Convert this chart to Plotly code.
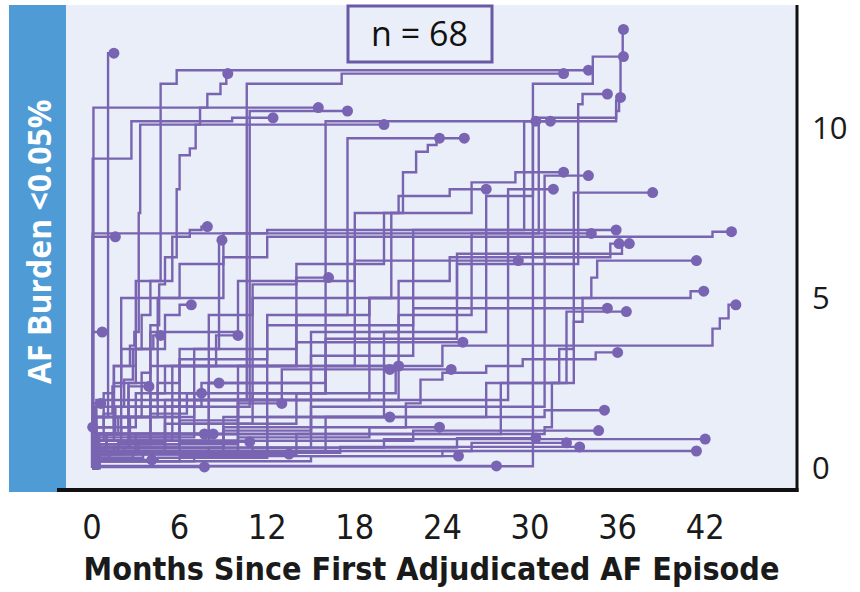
import plotly.graph_objects as go

# ---- data: per-patient step paths (months, AF burden) and end of follow-up ----
patient_step_months = [
    [0, 0.3, 1.1],
    [0, 0.3, 2.6, 3.4, 4.0, 4.6, 5.0, 5.8, 6.0, 6.7, 7.1, 7.4, 7.9, 8.8, 9.2],
    [0, 0.1],
    [0, 0.4, 5.5, 10.8],
    [0, 0.05, 2.7, 9.6],
    [0, 0.2, 0.8, 1.4, 2.0, 2.6, 2.9, 3.2, 3.3],
    [0, 0.3, 10, 21, 26, 30.6, 35.9, 36.2, 36.35],
    [0, 0.2, 9, 20, 27, 30.2, 34.3],
    [0, 0.5, 4, 10.6, 17.1],
    [0, 0.3, 1.0, 1.6, 2.2, 2.8, 3.4, 4.0, 4.7, 5.8],
    [0, 0.4, 7, 16, 25, 33.3, 33.6],
    [0, 0.5, 15, 22, 29.6, 35.9, 36.1],
    [0, 0.1, 30.2],
    [0, 0.2, 8, 16.0],
    [0, 0.3, 10, 18, 20.5, 21.3, 22.2, 23.0, 23.6],
    [0, 0.1, 6, 12, 17.5],
    [0, 0.2, 6, 14, 20, 26, 29],
    [0, 0.5, 15, 31.0],
    [0, 0.2, 1, 2, 3, 5, 11, 18, 21, 24.5],
    [0, 0.3, 12, 28.5],
    [0, 0.3, 14, 28, 33.0],
    [0, 0.05, 0.8, 1.5, 2, 6, 9],
    [0, 0.05, 12],
    [0, 0.3, 4.5, 9, 12, 42.5],
    [0, 0.4, 8, 15, 21, 24.5, 35.5],
    [0, 0.2, 10, 19, 25, 36.3],
    [0, 0.2, 1.5, 3.0, 5.5, 6.7, 7.5],
    [0, 0.05],
    [0, 0.3, 1, 2, 3, 4.5, 6, 8.7],
    [0, 0.1, 1.5, 2.5, 4, 10, 18],
    [0, 0.3, 16, 31.0, 31.5, 32.0, 33.0, 33.6, 34.2, 34.6],
    [0, 0.2, 7, 14, 19, 41],
    [0, 0.2, 5, 11, 24, 42.5, 43.0, 43.6],
    [0, 0.1, 6, 12, 22],
    [0, 0.4, 12, 27, 32.5],
    [0, 0.1, 4, 8, 14],
    [0, 0.3, 9, 21.5, 22.5, 24, 27, 29.5, 34.5],
    [0, 0.2, 4, 8, 11, 14],
    [0, 0.1, 2, 5, 6],
    [0, 0.05],
    [0, 0.2, 1.5, 3.0, 4.2],
    [0, 0.3, 2.5, 5.5, 8.5],
    [0, 0.2, 2.5, 6, 14, 20.8],
    [0, 0.2, 1.8, 5, 16, 31],
    [0, 0.2, 1.5, 3, 10, 19],
    [0, 0.1, 2.2, 9, 22],
    [0, 0.2, 3.5, 11, 20],
    [0, 0.1, 1.2, 8, 25],
    [0, 0.2, 4.5, 12, 26],
    [0, 0.3, 2.8, 17],
    [0, 0.3, 6, 24],
    [0, 0.1, 15],
    [0, 0.05],
    [0, 0.1, 1.8, 7, 13],
    [0, 0.2, 5, 11, 16],
    [0, 0.3, 2.5],
    [0, 0.2, 4, 6.5],
    [0, 0.4, 5, 7.5],
    [0, 0.1, 6, 10],
    [0, 0.05],
    [0, 0.2, 3.2, 9, 15],
    [0, 0.0],
    [0, 0.2, 5],
    [0, 0.5, 3],
    [0, 0.3, 6],
    [0, 0.1, 7],
    [0],
    [0, 0.1],
]
patient_step_burden = [
    [0, 1.5, 12.2],
    [0, 0.6, 1.5, 2.8, 4.2, 5.4, 6.2, 8.2, 9.2, 9.4, 10.1, 10.6, 11.0, 11.3, 11.6],
    [0, 10.6],
    [0, 0.8, 1.8, 10.5],
    [0, 9.1, 10.2, 10.3],
    [0, 0.8, 1.6, 2.4, 3.0, 3.6, 4.0, 7.5, 10.1],
    [0, 0.5, 2.0, 4.5, 6.9, 10.3, 10.8, 12.1, 12.9],
    [0, 0.6, 1.5, 4.0, 8.0, 11.3, 12.1],
    [0, 0.7, 2.0, 11.3, 11.6],
    [0, 0.4, 1.0, 1.8, 2.6, 3.5, 4.5, 5.5, 11.3, 11.7],
    [0, 0.9, 2.2, 3.8, 6.0, 10.7, 11.0],
    [0, 1.0, 3.3, 7.0, 10.2, 10.5, 10.9],
    [0, 0.05, 10.2],
    [0, 0.8, 2.5, 10.2],
    [0, 1.0, 3.0, 5.0, 7.5, 8.7, 9.3, 9.5, 9.7],
    [0, 0.6, 2.0, 4.5, 9.7],
    [0, 1.0, 3.0, 6.0, 7.5, 8.4, 8.7],
    [0, 0.6, 1.8, 8.6],
    [0, 0.5, 1.0, 1.5, 2.2, 3.0, 5.0, 7.5, 8.0, 8.2],
    [0, 0.5, 2.0, 8.2],
    [0, 0.4, 1.0, 2.5, 8.1],
    [0, 1.2, 2.2, 3.0, 5.0, 6.0, 6.9],
    [0, 6.9, 7.0],
    [0, 2.0, 5.0, 6.2, 6.8, 6.95],
    [0, 1.0, 2.5, 4.0, 5.5, 6.2, 6.6],
    [0, 0.8, 2.0, 5.0, 6.3, 6.6],
    [0, 1.0, 3.0, 5.5, 6.8, 7.0, 7.1],
    [0, 6.8],
    [0, 0.5, 0.8, 1.2, 1.5, 2.5, 3.5, 6.7],
    [0, 0.8, 1.5, 2.5, 4.0, 5.5, 6.1],
    [0, 0.5, 1.0, 1.2, 2.5, 3.5, 4.3, 5.0, 5.6, 6.1],
    [0, 1.8, 3.5, 4.5, 5.0, 5.2],
    [0, 1.0, 2.0, 3.0, 3.6, 4.1, 4.4, 4.8],
    [0, 1.5, 3.2, 4.2, 4.7],
    [0, 0.5, 1.5, 2.5, 4.6],
    [0, 1.0, 2.2, 3.0, 3.7],
    [0, 0.4, 1.2, 1.9, 2.6, 2.8, 3.0, 3.2, 3.4],
    [0, 1.5, 3.0, 4.5, 5.4, 5.6],
    [0, 1.5, 3.5, 4.5, 4.8],
    [0, 4.0],
    [0, 1.2, 2.5, 3.5, 3.9],
    [0, 0.7, 1.8, 3.0, 3.9],
    [0, 0.6, 0.9, 1.3, 2.2, 2.9],
    [0, 0.5, 0.75, 1.0, 1.5, 1.7],
    [0, 0.5, 0.6, 0.7, 0.9, 1.2],
    [0, 0.4, 0.6, 0.8, 1.1],
    [0, 0.3, 0.45, 0.6, 0.85],
    [0, 0.3, 0.45, 0.6, 0.88],
    [0, 0.2, 0.3, 0.5, 0.74],
    [0, 0.3, 0.45, 0.62],
    [0, 0.2, 0.35, 0.5],
    [0, 0.2, 0.35],
    [0, 0.06],
    [0, 1.0, 1.5, 2.0, 2.9],
    [0, 0.6, 1.3, 2.2, 3.0],
    [0, 1.2, 2.4],
    [0, 0.8, 1.6, 2.2],
    [0, 1.0, 1.8, 2.5],
    [0, 0.7, 1.4, 1.9],
    [0, 1.9],
    [0, 0.5, 0.8, 1.1, 1.5],
    [0, 1.2],
    [0, 0.5, 1.0],
    [0, 0.4, 1.0],
    [0, 0.4, 0.77],
    [0, 0.2, 0.41],
    [0.03],
    [0, 0.24],
]
patient_end_months = [
    1.5, 9.3, 15.5, 17.5, 12.4, 20.0, 36.4, 36.4, 32.3, 34.0,
    35.3, 36.2, 30.4, 31.4, 23.8, 25.5, 32.3, 34.0, 27.0, 31.6,
    38.4, 34.2, 35.9, 43.8, 36.1, 36.8, 7.9, 1.6, 8.9, 29.2,
    41.4, 41.9, 44.1, 35.3, 36.6, 25.4, 36.0, 16.2, 6.8, 0.7,
    4.7, 10.0, 24.6, 35.1, 23.8, 34.7, 42.0, 30.4, 32.5, 33.4,
    41.4, 25.1, 27.7, 20.4, 21.0, 3.9, 7.5, 8.7, 13.0, 0.6,
    20.4, 0.05, 8.3, 7.7, 10.8, 13.5, 7.7, 4.1,
]
x_tick_values = [0, 6, 12, 18, 24, 30, 36, 42]
y_tick_values = [0, 5, 10]
n_label = "n = 68"
side_label = "AF Burden <0.05%"
x_title = "Months Since First Adjudicated AF Episode"

# ---- styling ----
LINE_COLOR = "rgb(120, 100, 176)"
DOT_COLOR = "rgb(120, 100, 178)"
PLOT_BG = "#e9eef8"
BAND = "#4e9bd6"
W, H = 860, 592

fig = go.Figure()
for months, burden, end in zip(patient_step_months, patient_step_burden, patient_end_months):
    xs = list(months) + [end]
    ys = list(burden) + [burden[-1]]
    fig.add_trace(go.Scatter(
        x=xs, y=ys, mode="lines", line=dict(color=LINE_COLOR, width=2.4, shape="hv"),
        hoverinfo="skip", showlegend=False))

fig.add_trace(go.Scatter(
    x=patient_end_months, y=[b[-1] for b in patient_step_burden], mode="markers",
    marker=dict(color=DOT_COLOR, size=11, line=dict(width=0)),
    showlegend=False, hoverinfo="skip"))

# plot area in pixels
px_left, px_right, px_top, px_bottom = 66, 797, 5, 490
x0_px, px_per_month = 92, 14.6
y0_px, px_per_unit = 468, 34.0
x_range = [(px_left - x0_px) / px_per_month, (px_right - x0_px) / px_per_month]
y_range = [(y0_px - px_bottom) / px_per_unit, (y0_px - px_top) / px_per_unit]

cond_font = "DejaVu Sans Condensed, sans-serif"

fig.update_layout(
    width=W, height=H, margin=dict(l=0, r=0, t=0, b=0),
    paper_bgcolor="white", plot_bgcolor=PLOT_BG,
    xaxis=dict(domain=[px_left / W, px_right / W], range=x_range,
               showgrid=False, zeroline=False, showline=False,
               tickmode="array", tickvals=x_tick_values, ticks="",
               ticklabelstandoff=14,
               tickfont=dict(family=cond_font, size=34, color="#1a1a1a"),
               title=dict(text=x_title, standoff=11,
                          font=dict(family=cond_font, size=32, color="#1a1a1a", weight="bold"))),
    yaxis=dict(domain=[1 - px_bottom / H, 1 - px_top / H], range=y_range, side="right",
               showgrid=False, zeroline=False, showline=False,
               tickmode="array", tickvals=y_tick_values, ticks="",
               ticklabelstandoff=14,
               tickfont=dict(family="Open Sans, DejaVu Sans, sans-serif", size=31, color="#1a1a1a")),
)

shapes = [
    # left blue band
    dict(type="rect", xref="paper", yref="paper", x0=9 / W, x1=66 / W,
         y0=1 - 492 / H, y1=1 - 5 / H, fillcolor=BAND, line=dict(width=0), layer="below"),
    # right border
    dict(type="line", xref="paper", yref="paper", x0=797 / W, x1=797 / W,
         y0=1 - 492 / H, y1=1 - 5 / H, line=dict(color="#111111", width=3)),
    # bottom border
    dict(type="line", xref="paper", yref="paper", x0=57 / W, x1=798.5 / W,
         y0=1 - 490 / H, y1=1 - 490 / H, line=dict(color="#111111", width=4)),
    # n box
    dict(type="rect", xref="paper", yref="paper", x0=348 / W, x1=492 / W,
         y0=1 - 62 / H, y1=1 - 6 / H, fillcolor=PLOT_BG,
         line=dict(color="#6a59a8", width=3)),
]
fig.update_layout(shapes=shapes)

fig.add_annotation(xref="paper", yref="paper", x=419 / W, y=1 - 33 / H,
                   xanchor="center", yanchor="middle",
                   text=n_label, showarrow=False,
                   font=dict(family="Open Sans, DejaVu Sans, sans-serif", size=34, color="#111111"))
fig.add_annotation(xref="paper", yref="paper", x=38 / W, y=1 - 242 / H,
                   xanchor="center", yanchor="middle",
                   text=side_label, textangle=-90, showarrow=False,
                   font=dict(family="Open Sans, DejaVu Sans, sans-serif", size=32,
                             color="white", weight="bold"))

fig.write_html("out.html")
